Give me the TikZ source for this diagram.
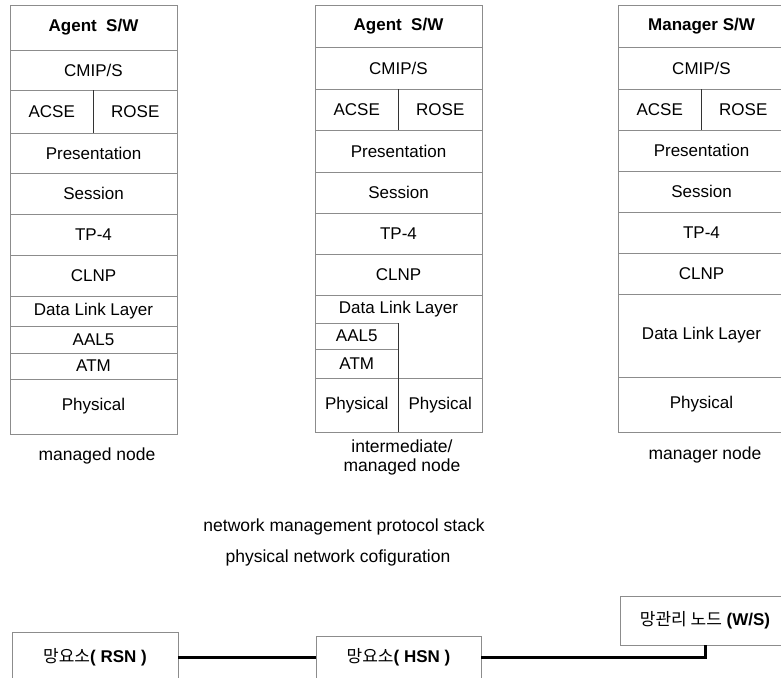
\documentclass[tikz,border=0pt]{standalone}
\usepackage{fontspec}
\setmainfont{Liberation Sans}
\newfontfamily\kofont{Noto Sans CJK KR}
\usepackage{tikz}
\usetikzlibrary{positioning}
\definecolor{framegray}{gray}{0.55}
\tikzset{layer/.style = {draw = framegray, line width = 0.6pt, minimum width = 167,
                         minimum height = #1, inner sep = 0, outer sep = 0,
                         font = \fontsize{17}{20}\selectfont}}
\tikzset{half/.style = {layer = #1, minimum width = 83.5}}
\tikzset{bare/.style = {layer = #1, draw = none}}
\tikzset{caption/.style = {align = center, font = \fontsize{17.5}{19}\selectfont}}
\tikzset{netbox/.style = {draw = framegray, line width = 0.6pt, inner sep = 0, outer sep = 0,
                          font = \fontsize{17}{20}\selectfont}}
\tikzset{divider/.style = {draw = black!80, line width = 0.8pt}}
\tikzset{link/.style = {draw = black, line width = 3pt}}

\begin{document}
\begin{tikzpicture}[x = 1pt, y = -1pt]
      \useasboundingbox (0, 0) rectangle (781, 677);
      \node (agentL) at (93.5, 27.5) [layer = 45] {\textbf{Agent\ \ S/W}};
      \node (cmipL) at (93.5, 70) [layer = 40] {CMIP/S};
      \node (acseL) at (51.75, 111.5) [half = 43] {ACSE};
      \node (roseL) at (135.25, 111.5) [half = 43] {ROSE};
      \node (presL) at (93.5, 153) [layer = 40] {Presentation};
      \node (sessL) at (93.5, 193.5) [layer = 41] {Session};
      \node (tpL) at (93.5, 234.5) [layer = 41] {TP-4};
      \node (clnpL) at (93.5, 275.5) [layer = 41] {CLNP};
      \node (dllL) at (93.5, 311) [layer = 30] {Data Link Layer};
      \node (aalL) at (93.5, 339.5) [layer = 27] {AAL5};
      \node (atmL) at (93.5, 366) [layer = 26] {ATM};
      \node (physL) at (93.5, 406.5) [layer = 55] {Physical};
      \draw [divider] (acseL.north east) -- (acseL.south east);
      \node (nameL) at (97, 456) [caption] {managed node};

      \node (agentM) at (398.5, 26) [layer = 42] {\textbf{Agent\ \ S/W}};
      \node (cmipM) at (398.5, 68) [layer = 42] {CMIP/S};
      \node (acseM) at (356.75, 109.5) [half = 41] {ACSE};
      \node (roseM) at (440.25, 109.5) [half = 41] {ROSE};
      \node (presM) at (398.5, 151) [layer = 42] {Presentation};
      \node (sessM) at (398.5, 192.5) [layer = 41] {Session};
      \node (tpM) at (398.5, 233.5) [layer = 41] {TP-4};
      \node (clnpM) at (398.5, 274.5) [layer = 41] {CLNP};
      \node (dllM) at (398.5, 309) [bare = 28] {Data Link Layer};
      \node (aalM) at (356.75, 336) [half = 26] {AAL5};
      \node (atmM) at (356.75, 363.5) [half = 29] {ATM};
      \node (phyaM) at (356.75, 405) [half = 54] {Physical};
      \node (phybM) at (440.25, 405) [half = 54] {Physical};
      \draw [layer = 0] (dllM.south west) -- (dllM.north west) -- (dllM.north east) -- (phybM.north east);
      \draw [divider] (acseM.north east) -- (acseM.south east);
      \draw [divider] (aalM.north east) -- (phyaM.south east);
      \node (nameM) at (402, 457) [caption] {intermediate/\\managed node};

      \node (mgrR) at (701.5, 26) [layer = 42] {\textbf{Manager S/W}};
      \node (cmipR) at (701.5, 68) [layer = 42] {CMIP/S};
      \node (acseR) at (659.75, 109.5) [half = 41] {ACSE};
      \node (roseR) at (743.25, 109.5) [half = 41] {ROSE};
      \node (presR) at (701.5, 150.5) [layer = 41] {Presentation};
      \node (sessR) at (701.5, 191.5) [layer = 41] {Session};
      \node (tpR) at (701.5, 232.5) [layer = 41] {TP-4};
      \node (clnpR) at (701.5, 273.5) [layer = 41] {CLNP};
      \node (dllR) at (701.5, 335.5) [layer = 83] {Data Link Layer};
      \node (physR) at (701.5, 404.5) [layer = 55] {Physical};
      \draw [divider] (acseR.north east) -- (acseR.south east);
      \node (nameR) at (705, 455) [caption] {manager node};

      \node (stackTitle) at (344, 527) [caption] {network management protocol stack};
      \node (netTitle) at (338, 558) [caption] {physical network cofiguration};

      \node (rsn) at (95, 657) [netbox, minimum width = 166, minimum height = 50] {{\kofont 망요소}\textbf{( RSN )}};
      \node (hsn) at (398.5, 657) [netbox, minimum width = 165, minimum height = 42] {{\kofont 망요소}\textbf{( HSN )}};
      \node (ws) at (705, 620.5) [netbox, minimum width = 170, minimum height = 49] {{\kofont 망관리 노드} \textbf{(W/S)}};
      \draw [link] (rsn.east) -- (hsn.west);
      \draw [link] (hsn.east) -| (ws.south);
    \end{tikzpicture}
\end{document}
